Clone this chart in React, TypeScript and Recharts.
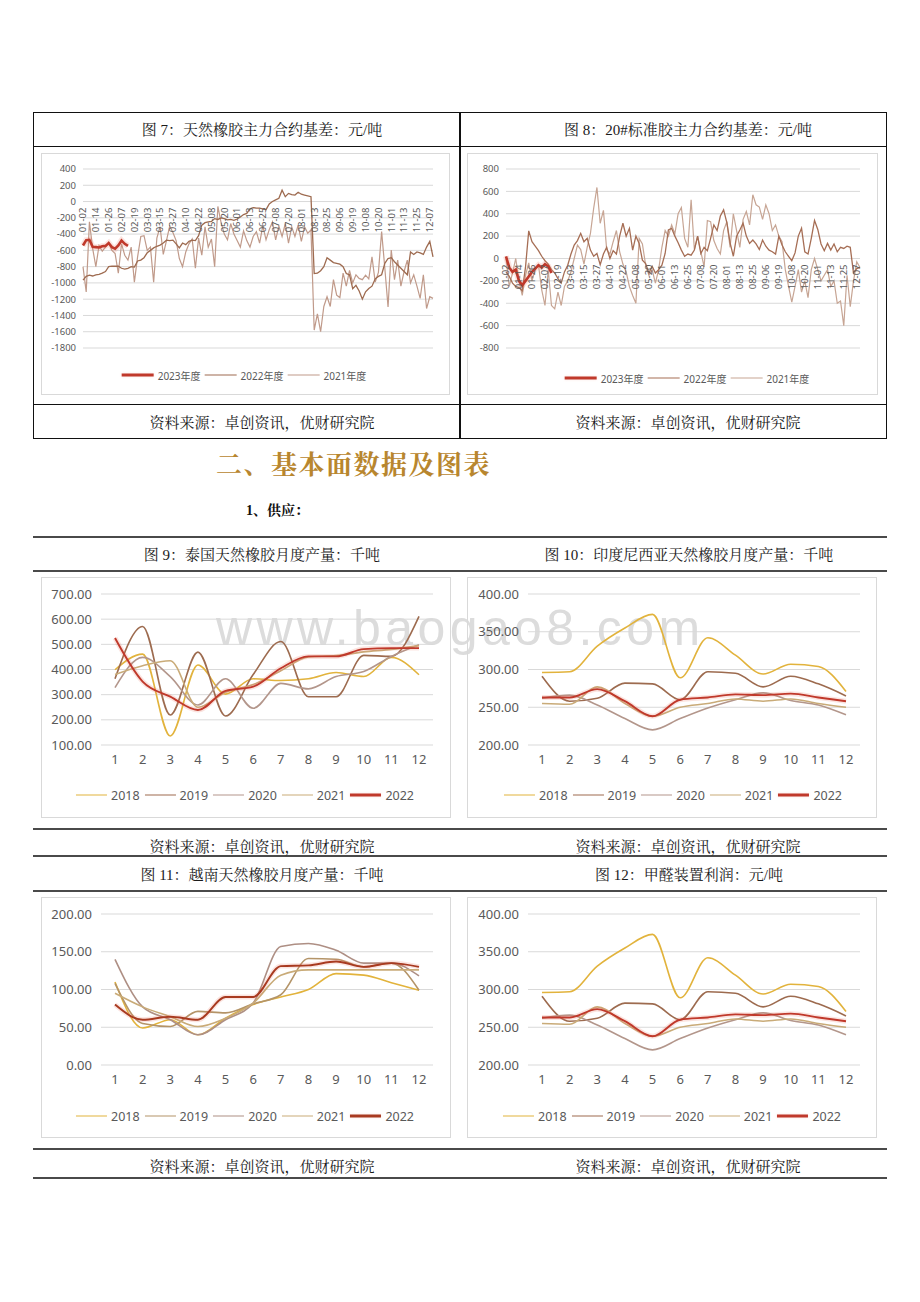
import React from 'react';
import { LineChart, Line, XAxis, YAxis, CartesianGrid } from 'recharts';

// ---- 图7 / 图8: daily basis, one label every 4 points ----
const dateTicks = ['01-02', '01-14', '01-26', '02-07', '02-19', '03-03', '03-15', '03-27', '04-10', '04-22', '05-08', '05-20', '06-01', '06-13', '06-25', '07-08', '07-20', '08-01', '08-13', '08-25', '09-06', '09-19', '10-08', '10-20', '11-01', '11-13', '11-25', '12-07'];

const rubber2023 = [-540, -475, -470, -555, -560, -565, -550, -545, -510, -560, -580, -540, -480, -520, -545];
const rubber2022 = [
  -966, -920, -905, -915, -900, -895, -880, -860, -800, -795,
  -795, -795, -820, -830, -820, -800, -805, -730, -720, -690,
  -630, -600, -570, -550, -535, -510, -475, -480, -475, -520,
  -570, -510, -530, -490, -475, -480, -420, -290, -260, -250,
  -245, -210, -220, -200, -210, -225, -220, -230, -215, -190,
  -160, -145, -90, -75, -80, -80, -90, -100, -30, 0,
  20, 40, 140, 60, 100, 85, 80, 115, 90, 80,
  70, 60, -885, -880, -850, -800, -690, -720, -750, -760,
  -770, -800, -885, -900, -1070, -1030, -1100, -1200, -1110, -1070,
  -1040, -950, -920, -900, -760, -700, -690, -740, -780, -820,
  -860, -900, -620, -650, -620, -630, -650, -560, -490, -680,
];
const rubber2021 = [
  -800, -1110, -250, -575, -800, -540, -610, -560, -500, -600,
  -640, -880, -520, -660, -720, -560, -990, -680, -430, -420,
  -600, -560, -990, -450, -310, -650, -480, -300, -380, -480,
  -700, -800, -620, -520, -460, -820, -450, -660, -310, -560,
  -460, -800, -60, -260, -400, -470, -270, -400, -480, -560,
  -360, -480, -560, -430, -370, -510, -300, -470, -345, -250,
  -470, -300, -430, -270, -510, -310, -430, -290, -490, -310,
  -390, -350, -1580, -1380, -1600, -1290, -1170, -1290, -960, -1150,
  -1180, -880, -1040, -845, -1000, -900, -945, -960, -905, -950,
  -680, -990, -870, -370, -820, -1295, -595, -960, -720, -1040,
  -860, -720, -1000, -900, -1040, -1190, -900, -1315, -1170, -1190,
];

const tsr2023 = [20, -80, -120, -100, -200, -240, -200, -160, -120, -90, -60, -80, -50, -70, -130];
const tsr2022 = [
  -120, -160, -220, -250, -260, -290, -80, 247, 150, 110, 70, 20, -20, -50, -100,
  -130, -180, -220, -120, -60, 40, 120, 160, 225, 150, 180,
  75, 20, 45, -55, 40, 100, 0, 70, 40, 200,
  315, 200, 270, 75, 200, 135, -15, -45, -130, -70,
  -130, -100, -60, 45, 255, 270, 200, 140, 75, 20,
  40, 30, 75, 200, 45, 100, 70, 180, 300, 250,
  380, 435, 320, 140, 20, 200, 255, 315, 200, 135,
  165, 130, 80, 165, 110, 75, 60, 40, 200, 120,
  60, 20, -20, 50, 200, 270, 60, 40, 180, 340,
  260, 130, 70, 135, 75, 130, 60, 100, 90, 110, 100, -130, -90, -80,
];
const tsr2021 = [
  0, -250, -130, 0, -200, -330, -150, -40, -200, -100, -60, -280, -420, -100, -420,
  -450, -300, -420, -250, -200, -120, 0, 120, 80, -50, 100,
  225, 450, 635, 315, 430, 80, 40, 150, 250, 60,
  -50, -120, -250, -330, -400, 180, 130, -60, -150, -100,
  -220, -100, 100, 250, 200, 300, 220, 400, 456, 180,
  100, 525, 80, 200, 60, -75, 340, 330, 160, 90,
  40, 250, 330, 100, 400, 250, 100, 350, 420, 300,
  570, 480, 460, 350, 480, 400, 250, 300, 200, 150,
  -100, -250, -390, -250, -100, -300, -200, -350, -100, 0,
  -100, -200, -150, -100, -250, -200, -400, -380, -600, -150, -430, -200, -30, -80,
];

const rubberTicks = [400, 200, 0, -200, -400, -600, -800, -1000, -1200, -1400, -1600, -1800];
const tsrTicks = [800, 600, 400, 200, 0, -200, -400, -600, -800];

// ---- 图9-12: monthly ----
const months = ['1', '2', '3', '4', '5', '6', '7', '8', '9', '10', '11', '12'];
const yearNames = ['2018', '2019', '2020', '2021', '2022'];

const thai2018 = [399, 461, 136, 418, 302, 363, 356, 363, 388, 372, 448, 379];
const thai2019 = [363, 571, 219, 469, 215, 380, 511, 292, 292, 456, 452, 611];
const thai2020 = [328, 448, 372, 259, 363, 246, 345, 323, 372, 392, 452, 498];
const thai2021 = [380, 415, 435, 250, 310, 340, 395, 450, 455, 470, 480, 495];
const thai2022 = [525, 352, 292, 239, 315, 332, 405, 452, 452, 481, 485, 485];

const indo2018 = [296, 297, 331, 355, 373, 289, 342, 319, 294, 307, 304, 271];
const indo2019 = [291, 258, 262, 282, 281, 260, 297, 295, 277, 291, 281, 265];
const indo2020 = [262, 266, 253, 235, 220, 235, 249, 260, 269, 259, 253, 240];
const indo2021 = [255, 254, 277, 255, 238, 250, 255, 261, 258, 261, 255, 250];
const indo2022 = [263, 263, 274, 258, 238, 260, 263, 267, 266, 268, 263, 258];

const viet2018 = [110, 49, 60, 40, 62, 80, 90, 100, 121, 119, 109, 99];
const viet2019 = [108, 55, 51, 71, 69, 81, 93, 141, 140, 130, 135, 99];
const viet2020 = [140, 77, 60, 40, 60, 82, 157, 161, 152, 135, 135, 118];
const viet2021 = [95, 77, 64, 51, 62, 82, 119, 126, 126, 126, 126, 126];
const viet2022 = [80, 60, 64, 60, 90, 90, 131, 132, 137, 130, 135, 130];

const thaiTicks = [100, 200, 300, 400, 500, 600, 700];
const indoTicks = [200, 250, 300, 350, 400];
const vietTicks = [0, 50, 100, 150, 200];

const FONT_TEXT = '"Liberation Serif", "Noto Serif CJK SC", "Noto Sans CJK SC", serif';
const FONT_CHART = '"Noto Sans", "Noto Sans CJK SC", sans-serif';
const GRID = '#D9D9D9';
const TICK = '#595959';
const GLOW = 'rgba(235, 120, 100, 0.2)';

const yearColors = ['#E2B33C', '#9D6B4F', '#B3968B', '#C9AB78', '#C0392B'];
const vietColors = ['#E2B33C', '#B49468', '#AE8F84', '#C9AB78', '#A83A20'];

function basisRows(a: number[], b: number[], c: number[]) {
  return b.map((v, i) => ({ idx: i, y2023: i < a.length ? a[i] : null, y2022: v, y2021: c[i] }));
}

function monthRows(series: number[][]) {
  return months.map((m, i) => {
    const row: any = { month: m };
    series.forEach((s, k) => (row['y' + yearNames[k]] = s[i]));
    return row;
  });
}

function Rule({ y, x1 = 33, x2 = 887, w = 1.3, color = '#4a4a4a' }: any) {
  return <div style={{ position: 'absolute', left: x1, top: y - w / 2, width: x2 - x1, height: w, background: color }} />;
}

function Caption({ cx, cy, children, size = 15 }: any) {
  return (
    <div style={{ position: 'absolute', left: cx - 250, width: 500, top: cy - 12, height: 24, lineHeight: '24px', textAlign: 'center', fontSize: size, fontFamily: FONT_TEXT, color: '#1a1a1a', whiteSpace: 'nowrap' }}>
      {children}
    </div>
  );
}

function LegendRow({ items, cx, cy, swatch, gap, textGap, fontSize }: any) {
  return (
    <div style={{ position: 'absolute', left: cx, top: cy, transform: 'translate(-50%, -50%)', display: 'flex', alignItems: 'center', whiteSpace: 'nowrap', fontFamily: FONT_CHART, fontSize, color: TICK }}>
      {items.map((it: any, k: number) => (
        <div key={k} style={{ display: 'flex', alignItems: 'center', marginLeft: k ? gap : 0 }}>
          <div style={{ width: swatch, height: it.width, background: it.color, marginRight: textGap, boxShadow: it.glow ? `0 0 3px ${GLOW}` : undefined }} />
          <span>{it.name}</span>
        </div>
      ))}
    </div>
  );
}

function BasisChart({ left, top, width, height, plotLeft, right, yTicks, rows, colors }: any) {
  const marginTop = 16;
  const axisH = 47;
  const yMax = yTicks[0];
  const yMin = yTicks[yTicks.length - 1];
  const plotH = height - marginTop - axisH;
  const zeroY = marginTop + (plotH * yMax) / (yMax - yMin);
  const DateTick = (p: any) => {
    const label = dateTicks[p.payload.value / 4];
    if (!label) return <g />;
    return (
      <text transform={`translate(${p.x},${zeroY + 6}) rotate(-90)`} textAnchor="end" dy="0.35em" fontSize={9.5} fill={TICK} fontFamily={FONT_CHART}>
        {label}
      </text>
    );
  };
  return (
    <>
      <div style={{ position: 'absolute', left, top, width, height, border: `1px solid ${GRID}`, boxSizing: 'border-box' }} />
      <div style={{ position: 'absolute', left, top, width, height }}>
        <LineChart width={width} height={height} data={rows} margin={{ top: marginTop, right, bottom: 0, left: 0 }}>
          <CartesianGrid vertical={false} stroke={GRID} />
          <XAxis dataKey="idx" type="category" interval={3} axisLine={false} tickLine={false} tickSize={0} height={axisH} tick={DateTick} />
          <YAxis width={plotLeft} domain={[yMin, yMax]} ticks={yTicks} interval={0} axisLine={false} tickLine={false} tickSize={0} tickMargin={7} tick={{ fontSize: 9.5, fill: TICK, fontFamily: FONT_CHART }} />
          <Line dataKey="y2021" stroke={colors[2]} strokeWidth={1.2} dot={false} isAnimationActive={false} />
          <Line dataKey="y2022" stroke={colors[1]} strokeWidth={1.3} dot={false} isAnimationActive={false} />
          <Line dataKey="y2023" stroke={GLOW} strokeWidth={6} dot={false} isAnimationActive={false} />
          <Line dataKey="y2023" stroke={colors[0]} strokeWidth={2.6} dot={false} isAnimationActive={false} />
        </LineChart>
      </div>
    </>
  );
}

function MonthlyChart({ left, top, plotLeft, right, yTicks, rows, colors }: any) {
  const width = 410;
  const height = 241;
  return (
    <>
      <div style={{ position: 'absolute', left, top, width, height, border: `1px solid ${GRID}`, boxSizing: 'border-box' }} />
      <div style={{ position: 'absolute', left, top, width, height }}>
        <LineChart width={width} height={height} data={rows} margin={{ top: 17, right, bottom: 0, left: 0 }}>
          <CartesianGrid vertical={false} stroke={GRID} />
          <XAxis dataKey="month" interval={0} axisLine={false} tickLine={false} tickSize={0} tickMargin={10} height={73} padding={{ left: 14, right: 14 }} tick={{ fontSize: 13, fill: TICK, fontFamily: FONT_CHART }} />
          <YAxis width={plotLeft} domain={[yTicks[0], yTicks[yTicks.length - 1]]} ticks={yTicks} interval={0} axisLine={false} tickLine={false} tickSize={0} tickMargin={9} tickFormatter={(v: number) => v.toFixed(2)} tick={{ fontSize: 13, fill: TICK, fontFamily: FONT_CHART }} />
          {yearNames.slice(0, 4).map((y, k) => (
            <Line key={y} type="monotone" dataKey={'y' + y} stroke={colors[k]} strokeWidth={1.6} dot={false} isAnimationActive={false} />
          ))}
          <Line type="monotone" dataKey="y2022" stroke={GLOW} strokeWidth={5} dot={false} isAnimationActive={false} />
          <Line type="monotone" dataKey="y2022" stroke={colors[4]} strokeWidth={1.9} dot={false} isAnimationActive={false} />
        </LineChart>
      </div>
    </>
  );
}

export default function App() {
  const basisColorsL = ['#C0392B', '#9E6B50', '#C09A8A'];
  const basisColorsR = ['#C0392B', '#A66E55', '#C7A594'];
  const basisLegend = (c: string[]) => [
    { name: '2023年度', color: c[0], width: 3, glow: true },
    { name: '2022年度', color: c[1], width: 1.5 },
    { name: '2021年度', color: c[2], width: 1.5 },
  ];
  const monthLegend = (c: string[]) => yearNames.map((n, k) => ({ name: n, color: c[k], width: k === 4 ? 2.2 : 1.8, glow: k === 4 }));
  const source = '资料来源：卓创资讯，优财研究院';

  return (
    <div style={{ position: 'absolute', left: 0, top: 0, width: 920, height: 1302, background: '#fff', overflow: 'hidden' }}>
      {/* watermark */}
      <div style={{ position: 'absolute', left: 216, top: 603, fontFamily: '"Liberation Sans", sans-serif', fontSize: 50, lineHeight: 1, letterSpacing: 4.4, color: '#DCDCDC', whiteSpace: 'nowrap' }}>
        www.baogao8.com
      </div>

      {/* top table */}
      <div style={{ position: 'absolute', left: 33, top: 112, width: 854, height: 327, border: '1.3px solid #111', boxSizing: 'border-box' }} />
      <Rule y={146.5} color="#111" />
      <Rule y={404.5} color="#111" />
      <div style={{ position: 'absolute', left: 459.4, top: 112, width: 1.3, height: 327, background: '#111' }} />
      <Caption cx={262} cy={130}>图 7：天然橡胶主力合约基差：元/吨</Caption>
      <Caption cx={688} cy={130}>图 8：20#标准胶主力合约基差：元/吨</Caption>
      <Caption cx={262} cy={423}>{source}</Caption>
      <Caption cx={688} cy={423}>{source}</Caption>

      <BasisChart left={41} top={153} width={409} height={242} plotLeft={42} right={17} yTicks={rubberTicks} rows={basisRows(rubber2023, rubber2022, rubber2021)} colors={basisColorsL} />
      <LegendRow items={basisLegend(basisColorsL)} cx={244} cy={375} swatch={32} gap={4} textGap={4} fontSize={10} />
      <BasisChart left={467} top={153} width={411} height={242} plotLeft={39} right={18} yTicks={tsrTicks} rows={basisRows(tsr2023, tsr2022, tsr2021)} colors={basisColorsR} />
      <LegendRow items={basisLegend(basisColorsR)} cx={687} cy={378} swatch={32} gap={4} textGap={4} fontSize={10} />

      {/* section heading */}
      <div style={{ position: 'absolute', left: 216, top: 450, height: 32, lineHeight: '32px', fontSize: 26, fontWeight: 700, letterSpacing: 1.5, color: '#B8862E', fontFamily: FONT_TEXT, whiteSpace: 'nowrap' }}>
        二、基本面数据及图表
      </div>
      <div style={{ position: 'absolute', left: 246, top: 501, height: 20, lineHeight: '20px', fontSize: 14, fontWeight: 700, color: '#111', fontFamily: FONT_TEXT, whiteSpace: 'nowrap' }}>
        1、供应：
      </div>

      {/* monthly section */}
      <Rule y={537} />
      <Rule y={571} />
      <Rule y={829} />
      <Rule y={856} />
      <Rule y={891} />
      <Rule y={1149} />
      <Rule y={1178} />
      <Caption cx={262} cy={555}>图 9：泰国天然橡胶月度产量：千吨</Caption>
      <Caption cx={689} cy={555}>图 10：印度尼西亚天然橡胶月度产量：千吨</Caption>
      <Caption cx={262} cy={847}>{source}</Caption>
      <Caption cx={688} cy={847}>{source}</Caption>
      <Caption cx={262} cy={875}>图 11：越南天然橡胶月度产量：千吨</Caption>
      <Caption cx={689} cy={875}>图 12：甲醛装置利润：元/吨</Caption>
      <Caption cx={262} cy={1167}>{source}</Caption>
      <Caption cx={688} cy={1167}>{source}</Caption>

      <MonthlyChart left={41} top={577} plotLeft={60} right={18} yTicks={thaiTicks} rows={monthRows([thai2018, thai2019, thai2020, thai2021, thai2022])} colors={yearColors} />
      <LegendRow items={monthLegend(yearColors)} cx={245} cy={795} swatch={31} gap={5} textGap={4} fontSize={12.5} />
      <MonthlyChart left={467} top={577} plotLeft={61} right={17} yTicks={indoTicks} rows={monthRows([indo2018, indo2019, indo2020, indo2021, indo2022])} colors={yearColors} />
      <LegendRow items={monthLegend(yearColors)} cx={673} cy={795} swatch={31} gap={5} textGap={4} fontSize={12.5} />

      <MonthlyChart left={41} top={897} plotLeft={60} right={18} yTicks={vietTicks} rows={monthRows([viet2018, viet2019, viet2020, viet2021, viet2022])} colors={vietColors} />
      <LegendRow items={monthLegend(vietColors)} cx={245} cy={1116} swatch={31} gap={5} textGap={4} fontSize={12.5} />
      <MonthlyChart left={467} top={897} plotLeft={61} right={17} yTicks={indoTicks} rows={monthRows([indo2018, indo2019, indo2020, indo2021, indo2022])} colors={yearColors} />
      <LegendRow items={monthLegend(yearColors)} cx={672} cy={1116} swatch={31} gap={5} textGap={4} fontSize={12.5} />
    </div>
  );
}
